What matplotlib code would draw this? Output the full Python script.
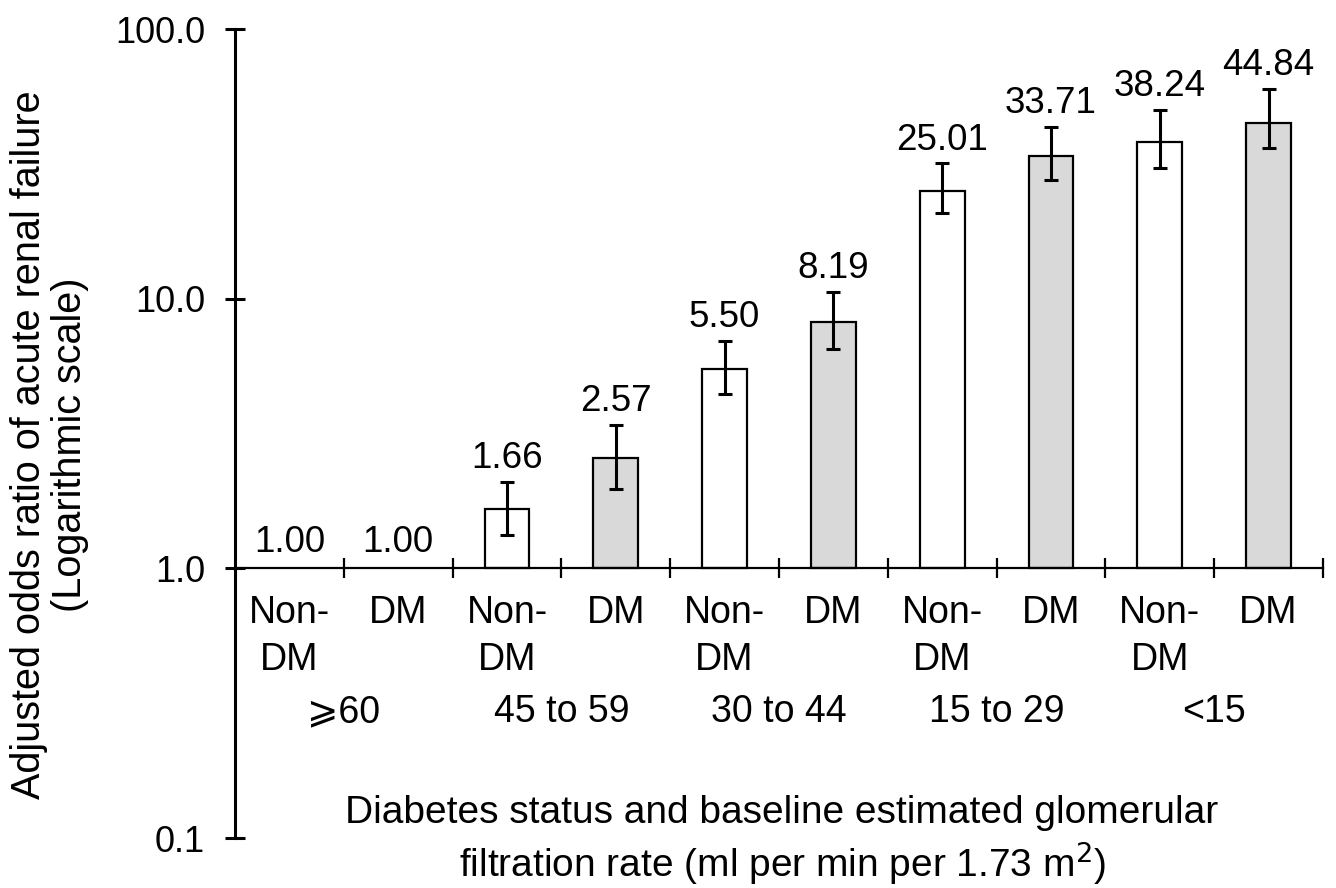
import matplotlib
matplotlib.use("Agg")
import matplotlib.pyplot as plt
import matplotlib.transforms as mtransforms

plt.rcParams['font.family'] = ['Liberation Sans', 'DejaVu Sans']

# Data
status = ["Non-\nDM", "DM", "Non-\nDM", "DM", "Non-\nDM", "DM", "Non-\nDM", "DM", "Non-\nDM", "DM"]
egfr_groups = ["\u2a7e60", "45 to 59", "30 to 44", "15 to 29", "<15"]
odds = [1.00, 1.00, 1.66, 2.57, 5.50, 8.19, 25.01, 33.71, 38.24, 44.84]
ci_low = [1.00, 1.00, 1.33, 1.97, 4.43, 6.50, 20.7, 27.6, 30.6, 36.1]
ci_high = [1.00, 1.00, 2.09, 3.40, 6.98, 10.6, 31.8, 43.4, 50.2, 60.0]
value_labels = ["1.00", "1.00", "1.66", "2.57", "5.50", "8.19", "25.01", "33.71", "38.24", "44.84"]
is_dm = [False, True] * 5
yticks = [0.1, 1.0, 10.0, 100.0]
ytick_labels = ["0.1", "1.0", "10.0", "100.0"]

W, H = 1336, 888
fig = plt.figure(figsize=(W / 100, H / 100), dpi=100)
ax = fig.add_axes([235 / W, 1 - 838 / H, (1323 - 235) / W, (838 - 29) / H])
ax.set_yscale('log')
ax.set_ylim(0.1, 100)
ax.set_xlim(-0.5, 9.5)

x = list(range(len(odds)))
for i in x:
    if odds[i] > 1.0:
        ax.bar(i, odds[i] - 1.0, bottom=1.0, width=0.41,
               color='#d9d9d9' if is_dm[i] else 'white',
               edgecolor='black', linewidth=1.6, zorder=2)
        ax.errorbar(i, odds[i], yerr=[[odds[i] - ci_low[i]], [ci_high[i] - odds[i]]],
                    fmt='none', ecolor='black', elinewidth=2.2, capsize=4.8,
                    capthick=2.2, zorder=3)
    top = max(ci_high[i], odds[i])
    ax.annotate(value_labels[i], (i, top), xytext=(0, 4 if odds[i] > 1 else 6),
                textcoords='offset points', ha='center', va='bottom', fontsize=26.5)

for s in ['top', 'right']:
    ax.spines[s].set_visible(False)
ax.spines['bottom'].set_position(('data', 1.0))
ax.spines['bottom'].set_linewidth(1.6)
ax.spines['left'].set_linewidth(2.2)
ax.spines['left'].set_bounds(0.1, 100)

ax.set_xticks([0.5 + k for k in range(10)])
ax.set_xticklabels([])
ax.tick_params(axis='x', direction='inout', length=14, width=1.6)
ax.set_yticks(yticks)
ax.set_yticklabels(ytick_labels, fontsize=26)
ax.yaxis.set_minor_locator(matplotlib.ticker.NullLocator())
ax.tick_params(axis='y', direction='inout', length=15, width=2.2, pad=14)

trans = mtransforms.blended_transform_factory(ax.transData, ax.transAxes)
for i in x:
    ax.text(i, 0.300, status[i], transform=trans, ha='center', va='top',
            fontsize=27, linespacing=1.38)
for k, g in enumerate(egfr_groups):
    ax.text(2 * k + 0.5, (838 - 712) / 809, g, transform=trans, ha='center',
            va='center', fontsize=27)

fig.text(782 / W, 1 - 841 / H,
         "Diabetes status and baseline estimated glomerular\nfiltration rate (ml per min per 1.73 m$^2$)",
         ha='center', va='center', fontsize=28, linespacing=1.2)
fig.text(50 / W, 1 - 445 / H,
         "Adjusted odds ratio of acute renal failure\n(Logarithmic scale)",
         ha='center', va='center', rotation=90, fontsize=28.5, linespacing=1.1)

fig.savefig('out.png', dpi=100)
